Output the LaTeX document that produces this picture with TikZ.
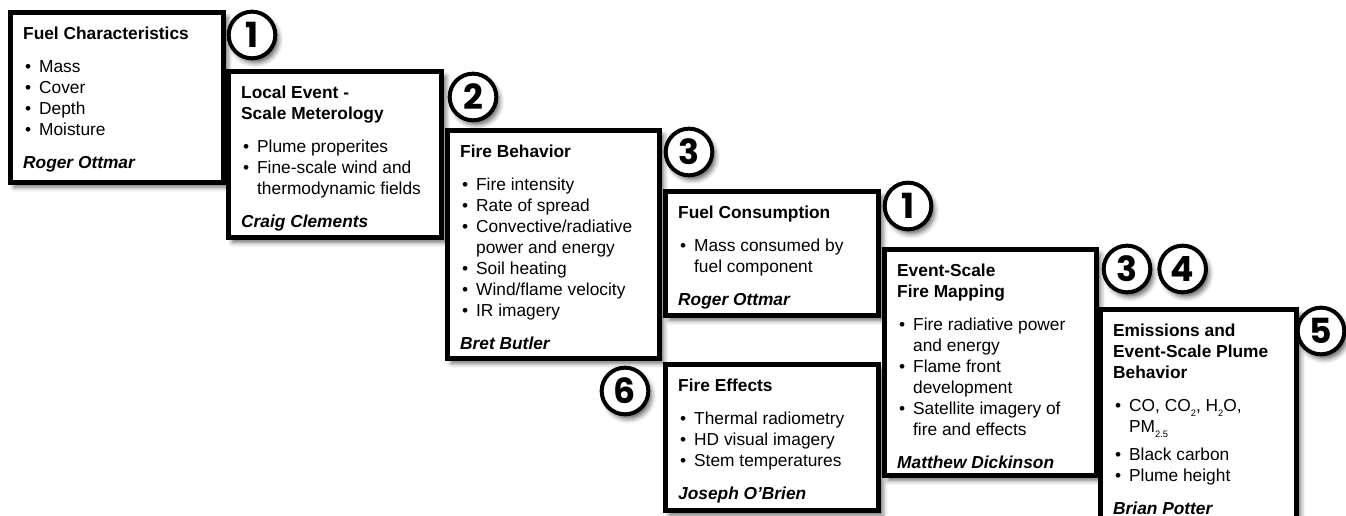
\documentclass[tikz,border=0pt]{standalone}
\usepackage{fontspec}
\setmainfont{Liberation Sans}
\newfontfamily\numfont{Poppins}
\usetikzlibrary{positioning}
\usetikzlibrary{shadows.blur}

\newcommand{\cardtitle}[1]{{\bfseries #1\par}\vspace{9pt}}
\newcommand{\bul}[1]{\hangindent=12pt\hangafter=1\noindent\makebox[12pt][l]{\hspace{1.5pt}\textbullet}#1\par}
\newcommand{\who}[1]{\vspace{9pt}{\bfseries\itshape #1\par}}
\newcommand{\cardbody}[3]{\begin{minipage}[t][#2][t]{#1}\fontsize{13}{15.75}\selectfont\raggedright #3\end{minipage}}
\newcommand{\sbs}[1]{\raisebox{-3.5pt}{\fontsize{7}{7}\selectfont #1}}

\begin{document}
\begin{tikzpicture}[x=0.75pt,y=-0.75pt]
 \tikzset{
 	card/.style={rectangle,draw=black,fill=white,line width=3.75pt,anchor=north west,
 	  inner xsep=9.5pt,inner ysep=11pt,outer sep=0pt,
 	  blur shadow={shadow xshift=3pt,shadow yshift=-3.5pt,shadow blur radius=3.5pt,shadow opacity=60}},
 	num/.style={circle,draw=black,fill=white,line width=3pt,minimum size=35pt,inner sep=0pt,outer sep=0pt,
 	  font=\numfont\bfseries\fontsize{26}{26}\selectfont,
 	  blur shadow={shadow xshift=2.5pt,shadow yshift=-3.5pt,shadow blur radius=3.5pt,shadow opacity=60}}
 }
 \useasboundingbox (0,0) rectangle (1346,516);

 % cards, left to right
 \node[card,minimum width=153pt,minimum height=127.5pt] (fuelchar) at (10.5,12.5)
   {\cardbody{141pt}{105.5pt}{\cardtitle{Fuel Characteristics}
     \bul{Mass}\bul{Cover}\bul{Depth}\bul{Moisture}
     \who{Roger Ottmar}}};
 \node[card,minimum width=153pt,minimum height=124.5pt] (meteo) at (228.5,71.5)
   {\cardbody{141pt}{102.5pt}{\cardtitle{Local Event -\\Scale Meterology}
     \bul{Plume properites}\bul{Fine-scale wind and\newline thermodynamic fields}
     \who{Craig Clements}}};
 \node[card,minimum width=152.25pt,minimum height=171pt] (behav) at (447.5,130.5)
   {\cardbody{140pt}{149pt}{\cardtitle{Fire Behavior}
     \bul{Fire intensity}\bul{Rate of spread}\bul{Convective/radiative\newline power and energy}
     \bul{Soil heating}\bul{Wind/flame velocity}\bul{IR imagery}
     \who{Bret Butler}}};
 \node[card,minimum width=153pt,minimum height=93pt] (consum) at (665.5,191.5)
   {\cardbody{141pt}{71pt}{\cardtitle{Fuel Consumption}
     \bul{Mass consumed by\newline fuel component}
     \who{Roger Ottmar}}};
 \node[card,minimum width=153.75pt,minimum height=109.5pt] (effects) at (665.5,364.5)
   {\cardbody{141pt}{87.5pt}{\cardtitle{Fire Effects}
     \bul{Thermal radiometry}\bul{HD visual imagery}\bul{Stem temperatures}
     \who{Joseph O’Brien}}};
 \node[card,minimum width=152.25pt,minimum height=169.5pt] (mapping) at (884.5,249.5)
   {\cardbody{140pt}{147.5pt}{\cardtitle{Event-Scale\\Fire Mapping}
     \bul{Fire radiative power\newline and energy}\bul{Flame front\newline development}
     \bul{Satellite imagery of\newline fire and effects}
     \who{Matthew Dickinson}}};
 \node[card,minimum width=140.25pt,minimum height=200pt] (emis) at (1100.5,309.5)
   {\cardbody{128pt}{178pt}{\cardtitle{Emissions and\\Event-Scale Plume\\Behavior}
     \bul{CO, CO\sbs{2}, H\sbs{2}O,\newline PM\sbs{2.5}}\vspace{5pt}
     \bul{Black carbon}\bul{Plume height}
     \who{Brian Potter}}};

 % numbered badges
 \node[num] (b1) at (252,35) {1};
 \node[num] (b2) at (473,97) {2};
 \node[num] (b3) at (689,152) {3};
 \node[num] (b1b) at (908,206) {1};
 \node[num] (b3b) at (1127,269) {3};
 \node[num] (b4) [right=6.75pt of b3b] {4};
 \node[num] (b5) at (1321,331) {5};
 \node[num] (b6) at (625,391) {6};
\end{tikzpicture}
\end{document}
